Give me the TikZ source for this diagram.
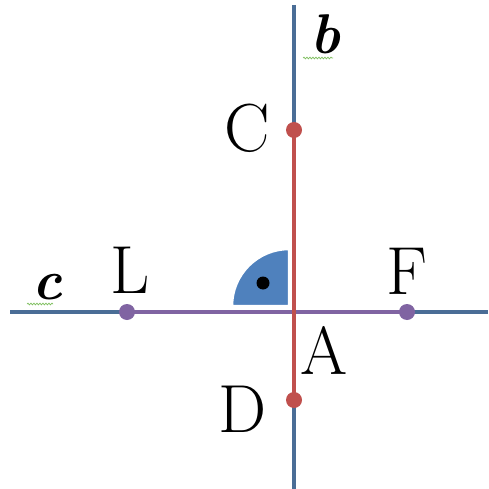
\documentclass[tikz,border=0pt]{standalone}
\usetikzlibrary{decorations.pathmorphing}
\definecolor{lineblue}{HTML}{4A6D96}
\definecolor{segred}{HTML}{C0504D}
\definecolor{segpurple}{HTML}{8064A2}
\definecolor{sectorblue}{HTML}{4F81BD}
\definecolor{spellgreen}{HTML}{7FBF5F}
\tikzset{
    axis/.style={draw=lineblue, line width=3.2pt},
    segment/.style={line width=4.4pt},
    endpoint/.style={circle, inner sep=0pt, minimum size=16pt},
    letter/.style={font=\fontsize{68}{68}\selectfont, inner sep=0pt},
    linename/.style={font=\fontsize{56}{56}\selectfont\bfseries\itshape, inner sep=0pt},
    squiggle/.style={draw=spellgreen, line width=0.7pt,
                     decorate, decoration={snake, amplitude=0.9pt, segment length=3pt}},
}

\begin{document}
\begin{tikzpicture}[x=1pt, y=-1pt]
    \path[use as bounding box] (0,0) rectangle (488,489);

    % lines b and c
    \coordinate (btop) at (294,5);
    \coordinate (bbot) at (294,489);
    \coordinate (cleft) at (10,312);
    \coordinate (cright) at (488,312);
    \coordinate (A) at (294,312);
    \draw[axis] (btop) -- (bbot);
    \draw[axis] (cleft) -- (cright);

    % right angle mark
    \coordinate (corner) at (289,306);
    \fill[sectorblue, draw=white, line width=2.5pt]
        (corner) -- ++(-57,0) arc[start angle=180, end angle=270, radius=57] -- cycle;
    \fill[black] (263,283) circle[radius=6.5pt];

    % segments
    \node[endpoint, fill=segred] (C) at (294,130) {};
    \node[endpoint, fill=segred] (D) at (294,400) {};
    \node[endpoint, fill=segpurple] (L) at (127,312) {};
    \node[endpoint, fill=segpurple] (F) at (407,312) {};
    \draw[segment, segpurple] (L.center) -- (F.center);
    \draw[segment, segred] (C.center) -- (D.center);

    % labels
    \node[letter] (Clabel) at (247,128) {C};
    \node[letter] (Dlabel) at (243,409) {D};
    \node[letter] (Llabel) at (130,270) {L};
    \node[letter] (Flabel) at (407,271) {F};
    \node[letter] (Alabel) at (324,350) {A};
    \node[linename] (blabel) at (325,34) {b};
    \node[linename] (clabel) at (47,287) {c};
    \draw[squiggle] (303,58) -- (333,58);
    \draw[squiggle] (27,304) -- (53,304);
\end{tikzpicture}
\end{document}
